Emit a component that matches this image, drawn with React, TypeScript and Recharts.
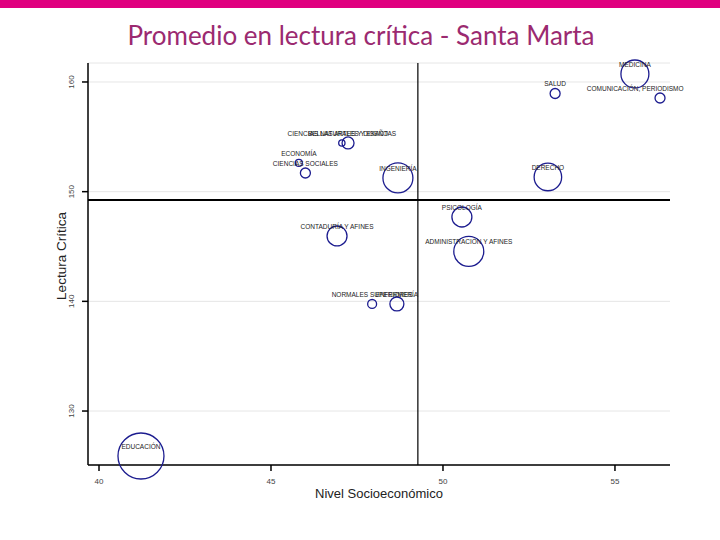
import React from 'react';
import {
  ScatterChart,
  Scatter,
  XAxis,
  YAxis,
  ZAxis,
  CartesianGrid,
  ReferenceLine,
  Label,
} from 'recharts';

// Grupos de referencia (Saber Pro) - Santa Marta
const carreras = [
  'MEDICINA',
  'SALUD',
  'COMUNICACIÓN, PERIODISMO',
  'CIENCIAS NATURALES Y EXACTAS',
  'BELLAS ARTES Y DISEÑO',
  'ECONOMÍA',
  'CIENCIAS SOCIALES',
  'INGENIERÍA',
  'DERECHO',
  'PSICOLOGÍA',
  'CONTADURÍA Y AFINES',
  'ADMINISTRACIÓN Y AFINES',
  'NORMALES SUPERIORES',
  'ENFERMERÍA',
  'EDUCACIÓN',
];
const nivelSocioeconomico = [55.58, 53.26, 56.31, 47.06, 47.24, 45.81, 46.0, 48.69, 53.05, 50.55, 46.92, 50.75, 47.94, 48.66, 41.22];
const lecturaCritica = [160.73, 158.95, 158.54, 154.44, 154.44, 152.62, 151.7, 151.25, 151.34, 147.69, 145.96, 144.55, 139.76, 139.76, 125.9];
const estudiantes = [196, 25, 25, 10, 36, 12, 25, 225, 190, 100, 100, 225, 20, 49, 530];

const xTicks = [40, 45, 50, 55];
const yTicks = [130, 140, 150, 160];
const promedioNivel = 49.27;
const promedioLectura = 149.24;

const data = carreras.map((nombre, i) => ({
  nombre,
  x: nivelSocioeconomico[i],
  y: lecturaCritica[i],
  z: estudiantes[i],
}));

const FONT = '"Liberation Sans", Arial, sans-serif';

// circulo sin relleno + etiqueta encima
const Burbuja = (props: any) => {
  const { cx, cy, width, size, payload } = props;
  const r = width ? width / 2 : Math.sqrt(size / Math.PI);
  const texto = payload.nombre as string;
  const ancho = texto.length * 4.4;
  let lx = cx;
  if (lx + ancho / 2 > 688) lx = 688 - ancho / 2;
  return (
    <g>
      <circle cx={cx} cy={cy} r={r} fill="none" stroke="#1c1c8f" strokeWidth={1.3} />
      <text x={lx} y={cy - 7} textAnchor="middle" fontSize={6.5} fill="#222" fontFamily={FONT}>
        {texto}
      </text>
    </g>
  );
};

const YTick = (props: any) => {
  const { x, y, payload } = props;
  return (
    <text
      transform={`translate(${x - 6},${y}) rotate(-90)`}
      textAnchor="middle"
      fontSize={8}
      fill="#444"
      fontFamily={FONT}
    >
      {payload.value}
    </text>
  );
};

const App: React.FC = () => {
  return (
    <div style={{ position: 'absolute', left: 0, top: 0, width: 720, height: 540, background: '#fff' }}>
      <div style={{ position: 'absolute', left: 0, top: 0, width: 720, height: 8, background: '#e0007f' }} />
      <div
        style={{
          position: 'absolute',
          left: 0,
          top: 19,
          width: 722,
          textAlign: 'center',
          fontFamily: 'Lato, sans-serif',
          fontSize: 26,
          lineHeight: '32px',
          color: '#9b2a70',
        }}
      >
        Promedio en lectura crítica - Santa Marta
      </div>
      <div style={{ position: 'absolute', left: 0, top: 0 }}>
        <ScatterChart
          width={720}
          height={540}
          margin={{ top: 63, right: 50, bottom: 45, left: 58 }}
          style={{ fontFamily: FONT }}
        >
          <CartesianGrid vertical={false} stroke="#e6e6e6" />
          <XAxis
            type="number"
            dataKey="x"
            domain={[39.68, 56.6]}
            ticks={xTicks}
            height={30}
            tickSize={6}
            tickMargin={7}
            tick={{ fontSize: 8, fill: '#444' }}
            axisLine={{ stroke: '#000', strokeWidth: 1.5 }}
            tickLine={{ stroke: '#000', strokeWidth: 1.5 }}
          >
            <Label
              content={({ viewBox }: any) => (
                <text
                  x={viewBox.x + viewBox.width / 2}
                  y={viewBox.y + 33}
                  textAnchor="middle"
                  fontSize={13}
                  fill="#222"
                  fontFamily={FONT}
                >
                  Nivel Socioeconómico
                </text>
              )}
            />
          </XAxis>
          <YAxis
            type="number"
            dataKey="y"
            domain={[125.08, 161.73]}
            ticks={yTicks}
            width={30}
            tickSize={6}
            tick={<YTick />}
            axisLine={{ stroke: '#000', strokeWidth: 1.5 }}
            tickLine={{ stroke: '#000', strokeWidth: 1.5 }}
          >
            <Label
              content={({ viewBox }: any) => (
                <text
                  transform={`translate(${viewBox.x + 8},${viewBox.y + viewBox.height / 2 - 8}) rotate(-90)`}
                  textAnchor="middle"
                  fontSize={13.5}
                  fill="#222"
                  fontFamily={FONT}
                >
                  Lectura Crítica
                </text>
              )}
            />
          </YAxis>
          <ZAxis type="number" dataKey="z" domain={[0, 530]} range={[0, 1662]} />
          <ReferenceLine y={promedioLectura} stroke="#000" strokeWidth={2} />
          <ReferenceLine x={promedioNivel} stroke="#000" strokeWidth={1.2} />
          <Scatter data={data} shape={<Burbuja />} isAnimationActive={false} />
        </ScatterChart>
      </div>
    </div>
  );
};

export default App;
